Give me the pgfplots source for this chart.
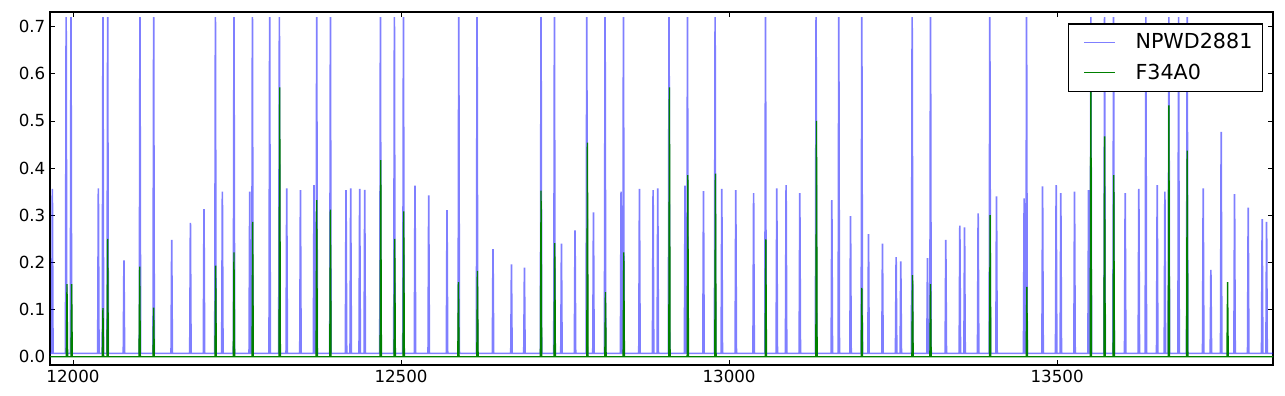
\documentclass[border=0pt]{standalone}
\usepackage{fontspec}
\setmainfont{DejaVu Sans}
\usepackage{pgfplots}
\pgfplotsset{compat=1.18}
\definecolor{mplgreen}{RGB}{0,128,0}
\begin{document}
\begin{tikzpicture}
\begin{axis}[
  scale only axis,
  width=917.25pt, height=264.75pt,
  xmin=11965, xmax=13829, ymin=-0.0176, ymax=0.731,
  axis line style={line width=0.9pt},
  xtick={12000,12500,13000,13500},
  ytick={0,0.1,0.2,0.3,0.4,0.5,0.6,0.7},
  scaled x ticks=false, scaled y ticks=false,
  tick align=inside, major tick length=3.5pt,
  tick style={line width=0.6pt, black},
  /pgf/number format/assume math mode=true,
  xticklabel style={/pgf/number format/set thousands separator={}, font=\fontsize{12.5}{15}\selectfont},
  yticklabel style={/pgf/number format/fixed, /pgf/number format/precision=1, /pgf/number format/fixed zerofill, font=\fontsize{12.5}{15}\selectfont},
  legend style={at={(1,1)}, anchor=north east, xshift=-7.5pt, yshift=-8.5pt,
    draw=black, line width=0.9pt, font=\fontsize{15.5}{18}\selectfont,
    inner xsep=7.5pt, inner ysep=7.2pt, row sep=10pt, nodes={inner sep=0pt},
    /tikz/every odd column/.append style={column sep=15pt}},
  legend cell align=left,
  legend image code/.code={\path (0pt,0pt); \draw[#1, line width=0.8pt] (3.75pt,0pt) -- (27pt,0pt);},
]
\addplot[blue, opacity=0.5, line width=1.25pt] coordinates {
(11965,0.007)
(11967.6,0.007)(11968.6,0.356)(11969.6,0.007)
(11988.6,0.007)(11989.6,0.72)(11990.6,0.007)
(11996,0.007)(11997,0.72)(11998,0.007)
(12037.7,0.007)(12038.7,0.357)(12039.7,0.007)
(12044.7,0.007)(12045.7,0.72)(12046.7,0.007)
(12051.9,0.007)(12052.9,0.72)(12053.9,0.007)
(12076.7,0.007)(12077.7,0.204)(12078.7,0.007)
(12101.1,0.007)(12102.1,0.72)(12103.1,0.007)
(12122,0.007)(12123,0.72)(12124,0.007)
(12149.5,0.007)(12150.5,0.248)(12151.5,0.007)
(12178,0.007)(12179,0.284)(12180,0.007)
(12198.7,0.007)(12199.7,0.313)(12200.7,0.007)
(12216.1,0.007)(12217.1,0.72)(12218.1,0.007)
(12226.7,0.007)(12227.7,0.350)(12228.7,0.007)
(12244.4,0.007)(12245.4,0.72)(12246.4,0.007)
(12268.4,0.007)(12269.4,0.350)(12270.4,0.007)
(12272.5,0.007)(12273.5,0.72)(12274.5,0.007)
(12298.8,0.007)(12299.8,0.72)(12300.8,0.007)
(12313.6,0.007)(12314.6,0.72)(12315.6,0.007)
(12324.8,0.007)(12325.8,0.357)(12326.8,0.007)
(12345.7,0.007)(12346.7,0.353)(12347.7,0.007)
(12366.4,0.007)(12367.4,0.364)(12368.4,0.007)
(12370.5,0.007)(12371.5,0.72)(12372.5,0.007)
(12391.4,0.007)(12392.4,0.72)(12393.4,0.007)
(12415.2,0.007)(12416.2,0.353)(12417.2,0.007)
(12422.3,0.007)(12423.3,0.357)(12424.3,0.007)
(12436,0.007)(12437,0.356)(12438,0.007)
(12443.7,0.007)(12444.7,0.354)(12445.7,0.007)
(12467.6,0.007)(12468.6,0.72)(12469.6,0.007)
(12488.9,0.007)(12489.9,0.72)(12490.9,0.007)
(12502.7,0.007)(12503.7,0.72)(12504.7,0.007)
(12520.3,0.007)(12521.3,0.363)(12522.3,0.007)
(12541.2,0.007)(12542.2,0.342)(12543.2,0.007)
(12569.1,0.007)(12570.1,0.311)(12571.1,0.007)
(12587,0.007)(12588,0.72)(12589,0.007)
(12614.9,0.007)(12615.9,0.72)(12616.9,0.007)
(12639.2,0.007)(12640.2,0.228)(12641.2,0.007)
(12667.3,0.007)(12668.3,0.196)(12669.3,0.007)
(12687.1,0.007)(12688.1,0.189)(12689.1,0.007)
(12712.4,0.007)(12713.4,0.72)(12714.4,0.007)
(12732.8,0.007)(12733.8,0.72)(12734.8,0.007)
(12743.5,0.007)(12744.5,0.240)(12745.5,0.007)
(12764.2,0.007)(12765.2,0.268)(12766.2,0.007)
(12782.1,0.007)(12783.1,0.72)(12784.1,0.007)
(12792.3,0.007)(12793.3,0.306)(12794.3,0.007)
(12810,0.007)(12811,0.72)(12812,0.007)
(12834.4,0.007)(12835.4,0.350)(12836.4,0.007)
(12838,0.007)(12839,0.72)(12840,0.007)
(12862.4,0.007)(12863.4,0.356)(12864.4,0.007)
(12883.2,0.007)(12884.2,0.353)(12885.2,0.007)
(12890.3,0.007)(12891.3,0.357)(12892.3,0.007)
(12907.5,0.007)(12908.5,0.72)(12909.5,0.007)
(12931.9,0.007)(12932.9,0.363)(12933.9,0.007)
(12935.6,0.007)(12936.6,0.72)(12937.6,0.007)
(12960,0.007)(12961,0.351)(12962,0.007)
(12977.7,0.007)(12978.7,0.72)(12979.7,0.007)
(12987.9,0.007)(12988.9,0.356)(12989.9,0.007)
(13009.2,0.007)(13010.2,0.353)(13011.2,0.007)
(13036.4,0.007)(13037.4,0.347)(13038.4,0.007)
(13054.5,0.007)(13055.5,0.72)(13056.5,0.007)
(13071.7,0.007)(13072.7,0.357)(13073.7,0.007)
(13085.9,0.007)(13086.9,0.364)(13087.9,0.007)
(13106.8,0.007)(13107.8,0.347)(13108.8,0.007)
(13131.6,0.007)(13132.6,0.72)(13133.6,0.007)
(13155.6,0.007)(13156.6,0.332)(13157.6,0.007)
(13166.2,0.007)(13167.2,0.72)(13168.2,0.007)
(13184.1,0.007)(13185.1,0.298)(13186.1,0.007)
(13201.3,0.007)(13202.3,0.72)(13203.3,0.007)
(13211.5,0.007)(13212.5,0.260)(13213.5,0.007)
(13232.8,0.007)(13233.8,0.240)(13234.8,0.007)
(13253.6,0.007)(13254.6,0.211)(13255.6,0.007)
(13260.7,0.007)(13261.7,0.202)(13262.7,0.007)
(13278,0.007)(13279,0.72)(13280,0.007)
(13301.4,0.007)(13302.4,0.209)(13303.4,0.007)
(13306,0.007)(13307,0.72)(13308,0.007)
(13329.3,0.007)(13330.3,0.248)(13331.3,0.007)
(13350.7,0.007)(13351.7,0.278)(13352.7,0.007)
(13357.9,0.007)(13358.9,0.274)(13359.9,0.007)
(13378.6,0.007)(13379.6,0.304)(13380.6,0.007)
(13396.4,0.007)(13397.4,0.72)(13398.4,0.007)
(13406.6,0.007)(13407.6,0.340)(13408.6,0.007)
(13448.7,0.007)(13449.7,0.336)(13450.7,0.007)
(13452.4,0.007)(13453.4,0.72)(13454.4,0.007)
(13476.8,0.007)(13477.8,0.361)(13478.8,0.007)
(13497.5,0.007)(13498.5,0.364)(13499.5,0.007)
(13504.6,0.007)(13505.6,0.347)(13506.6,0.007)
(13525.5,0.007)(13526.5,0.350)(13527.5,0.007)
(13546.9,0.007)(13547.9,0.353)(13548.9,0.007)
(13550.4,0.007)(13551.4,0.72)(13552.4,0.007)
(13571.3,0.007)(13572.3,0.72)(13573.3,0.007)
(13585,0.007)(13586,0.72)(13587,0.007)
(13602.7,0.007)(13603.7,0.347)(13604.7,0.007)
(13623.5,0.007)(13624.5,0.356)(13625.5,0.007)
(13634.2,0.007)(13635.2,0.72)(13636.2,0.007)
(13651.5,0.007)(13652.5,0.364)(13653.5,0.007)
(13663.2,0.007)(13664.2,0.350)(13665.2,0.007)
(13669.3,0.007)(13670.3,0.72)(13671.3,0.007)
(13684.1,0.007)(13685.1,0.72)(13686.1,0.007)
(13697.2,0.007)(13698.2,0.72)(13699.2,0.007)
(13721.6,0.007)(13722.6,0.357)(13723.6,0.007)
(13733.3,0.007)(13734.3,0.184)(13735.3,0.007)
(13749,0.007)(13750,0.477)(13751,0.007)
(13769.4,0.007)(13770.4,0.345)(13771.4,0.007)
(13790.2,0.007)(13791.2,0.316)(13792.2,0.007)
(13811.5,0.007)(13812.5,0.292)(13813.5,0.007)
(13818.2,0.007)(13819.2,0.286)(13820.2,0.007)
(13829,0.007)
};
\addlegendentry{NPWD2881}
\addplot[mplgreen, line width=1pt] coordinates {
(11965,0)
(11989.9,0)(11990.9,0.154)(11991.9,0)
(11997,0)(11998,0.154)(11999,0)
(12044.7,0)(12045.7,0.103)(12046.7,0)
(12051.9,0)(12052.9,0.250)(12053.9,0)
(12100.7,0)(12101.7,0.191)(12102.7,0)
(12122,0)(12123,0.104)(12124,0)
(12216.5,0)(12217.5,0.193)(12218.5,0)
(12244.4,0)(12245.4,0.221)(12246.4,0)
(12272.9,0)(12273.9,0.286)(12274.9,0)
(12314.1,0)(12315.1,0.571)(12316.1,0)
(12370.5,0)(12371.5,0.332)(12372.5,0)
(12391.4,0)(12392.4,0.312)(12393.4,0)
(12468.1,0)(12469.1,0.417)(12470.1,0)
(12489.4,0)(12490.4,0.250)(12491.4,0)
(12503.1,0)(12504.1,0.308)(12505.1,0)
(12586.5,0)(12587.5,0.158)(12588.5,0)
(12615.5,0)(12616.5,0.182)(12617.5,0)
(12712.4,0)(12713.4,0.352)(12714.4,0)
(12733.3,0)(12734.3,0.241)(12735.3,0)
(12783.1,0)(12784.1,0.454)(12785.1,0)
(12810.6,0)(12811.6,0.137)(12812.6,0)
(12838.5,0)(12839.5,0.221)(12840.5,0)
(12908.1,0)(12909.1,0.571)(12910.1,0)
(12936.1,0)(12937.1,0.385)(12938.1,0)
(12978.2,0)(12979.2,0.388)(12980.2,0)
(13055,0)(13056,0.249)(13057,0)
(13132.2,0)(13133.2,0.500)(13134.2,0)
(13201.3,0)(13202.3,0.146)(13203.3,0)
(13278.6,0)(13279.6,0.173)(13280.6,0)
(13306,0)(13307,0.154)(13308,0)
(13396.9,0)(13397.9,0.300)(13398.9,0)
(13452.8,0)(13453.8,0.148)(13454.8,0)
(13550.4,0)(13551.4,0.62)(13552.4,0)
(13571.3,0)(13572.3,0.467)(13573.3,0)
(13585.3,0)(13586.3,0.385)(13587.3,0)
(13669.3,0)(13670.3,0.533)(13671.3,0)
(13697.2,0)(13698.2,0.437)(13699.2,0)
(13758.8,0)(13759.8,0.158)(13760.8,0)
(13829,0)
};
\addlegendentry{F34A0}
\end{axis}
\path ([shift={(-37.5pt,-23.25pt)}]current axis.south west) rectangle ([shift={(9pt,9pt)}]current axis.north east);
\end{tikzpicture}
\end{document}
